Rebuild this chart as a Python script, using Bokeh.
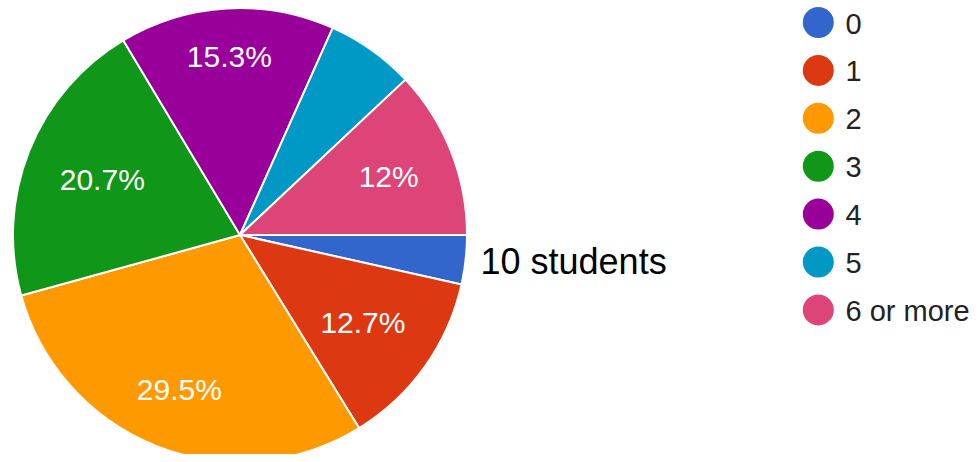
import math
from bokeh.plotting import figure
from bokeh.models import Range1d, ColumnDataSource
from bokeh.core.properties import value
from bokeh.embed import file_html
from bokeh.resources import INLINE

# ---- data ----
categories = ["0", "1", "2", "3", "4", "5", "6 or more"]
percents = [3.5, 12.7, 29.5, 20.7, 15.3, 6.3, 12.0]
shown_labels = ["", "12.7%", "29.5%", "20.7%", "15.3%", "", "12%"]
colors = ["#3366cc", "#dc3912", "#ff9900", "#109618", "#990099", "#0099c6", "#dd4477"]
callout_text = "10 students"

W, H = 972, 454
FONT = "Liberation Sans"

p = figure(width=W, height=H, output_backend="svg", toolbar_location=None,
           x_range=Range1d(0, W), y_range=Range1d(0, H),
           min_border=0, match_aspect=False)
p.axis.visible = False
p.grid.visible = False
p.outline_line_color = None
p.background_fill_color = "white"
p.border_fill_color = "white"

def py(img_y):
    # picture pixel y (downwards) -> data y (upwards)
    return H - img_y

cx, cy, R = 239.5, py(234.5), 227.0

total = sum(percents)
starts, ends, mids = [], [], []
acc = 0.0
for v in percents:
    a0 = acc / total * 2 * math.pi
    acc += v
    a1 = acc / total * 2 * math.pi
    starts.append(-a0)
    ends.append(-a1)
    mids.append(-(a0 + a1) / 2)

src = ColumnDataSource(dict(start=starts, end=ends, color=colors))
p.wedge(x=cx, y=cy, radius=R, start_angle="start", end_angle="end",
        direction="clock", fill_color="color", line_color="white",
        line_width=2, source=src)

# label placement: push text box so its outer extent sits at ~0.85 R
fs = 30
cw = {"%": 0.889, ".": 0.278}
lx, ly, lt = [], [], []
for lab, m in zip(shown_labels, mids):
    if not lab:
        continue
    w = sum(cw.get(c, 0.556) for c in lab) * fs
    h = 0.72 * fs
    dx, dy = math.cos(m), math.sin(m)
    ext = abs(dx) * w / 2 + abs(dy) * h / 2
    r = 0.845 * R - ext
    lx.append(cx + r * dx)
    ly.append(cy + r * dy)
    lt.append(lab)

p.text(x=lx, y=ly, text=lt, text_color="white", text_align="center",
       text_baseline="middle", text_font=value(FONT), text_font_size=f"{fs}px")

# callout for the smallest slice
p.text(x=[480], y=[py(261)], text=[callout_text], text_color="black",
       text_align="left", text_baseline="middle", text_font=value(FONT),
       text_font_size="36px")

# legend
leg_y = [py(22 + 47.9 * i) for i in range(len(categories))]
p.circle(x=[817.8] * len(categories), y=leg_y, radius=15.5,
         fill_color=colors, line_color=None)
p.text(x=[845] * len(categories), y=[v - 1 for v in leg_y], text=categories,
       text_color="#222222", text_align="left", text_baseline="middle",
       text_font=value(FONT), text_font_size="29px")

open("out.html", "w").write(file_html(p, INLINE))
